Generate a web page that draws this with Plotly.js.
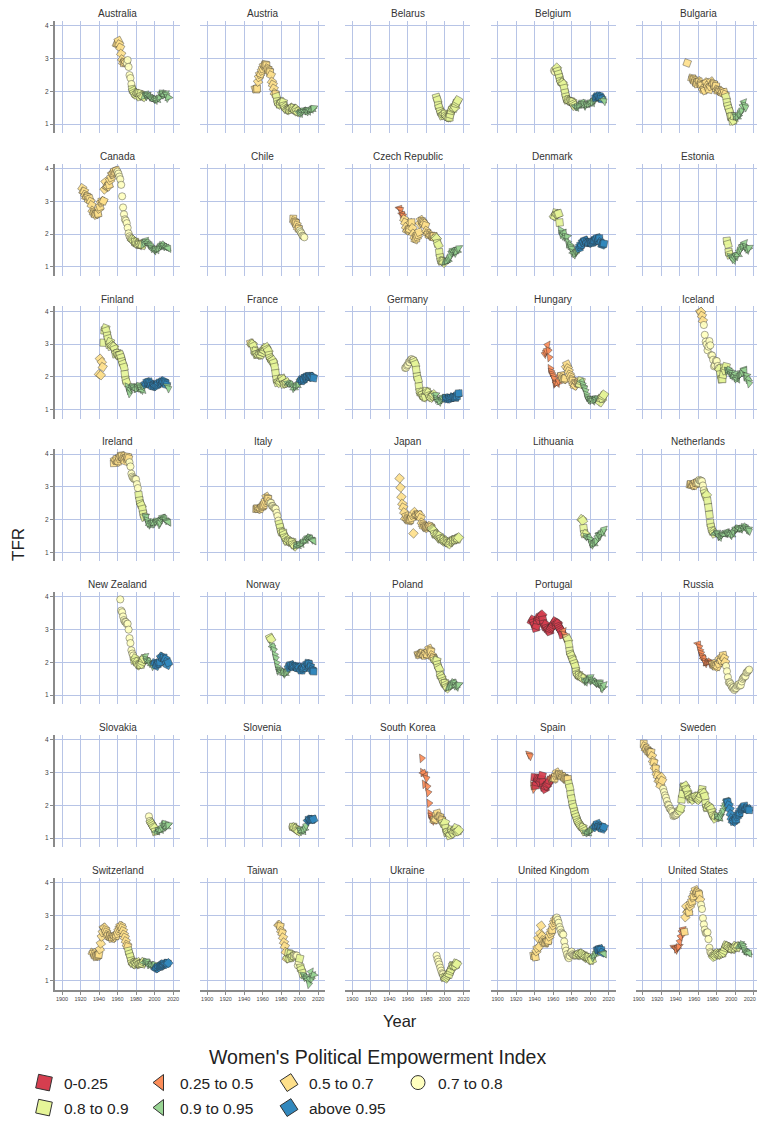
<!DOCTYPE html>
<html>
<head>
<meta charset="utf-8">
<script src="https://cdn.plot.ly/plotly-3.0.1.min.js"></script>
<style>
html,body{margin:0;padding:0;background:#fff;overflow:hidden;}
#chart{width:765px;height:1128px;}
</style>
</head>
<body>
<div id="chart"></div>
<script>
// ---------------- DATA ----------------
const COUNTRIES = ["Australia","Austria","Belarus","Belgium","Bulgaria",
  "Canada","Chile","Czech Republic","Denmark","Estonia",
  "Finland","France","Germany","Hungary","Iceland",
  "Ireland","Italy","Japan","Lithuania","Netherlands",
  "New Zealand","Norway","Poland","Portugal","Russia",
  "Slovakia","Slovenia","South Korea","Spain","Sweden",
  "Switzerland","Taiwan","Ukraine","United Kingdom","United States"];

const START_YEAR = [1958,1951,1990,1960,1947,
  1921,1992,1950,1960,1990,
  1939,1946,1956,1950,1961,
  1955,1952,1950,1990,1950,
  1962,1967,1970,1936,1959,
  1993,1991,1974,1933,1900,
  1932,1976,1990,1938,1933];

const tfrAustralia = [3.42,3.43,
 3.45,3.54,3.43,3.33,3.14,2.97,2.88,2.85,2.89,2.89,
 2.86,2.95,2.74,2.49,2.40,2.22,2.06,2.01,1.95,1.91,
 1.89,1.94,1.93,1.92,1.84,1.92,1.87,1.85,1.83,1.84,
 1.91,1.85,1.89,1.86,1.85,1.82,1.80,1.78,1.76,1.76,
 1.76,1.73,1.76,1.75,1.77,1.81,1.82,1.93,1.96,1.90,
 1.89,1.88,1.93,1.88,1.80,1.81];
const tfrAustria = [2.02,2.08,2.05,2.08,2.29,2.43,2.52,2.53,2.62,
 2.69,2.78,2.80,2.82,2.79,2.70,2.66,2.61,2.58,2.49,
 2.29,2.20,2.08,1.94,1.91,1.83,1.69,1.63,1.60,1.60,
 1.65,1.67,1.66,1.56,1.52,1.47,1.45,1.43,1.44,1.44,
 1.46,1.49,1.49,1.48,1.44,1.42,1.45,1.39,1.37,1.34,
 1.36,1.33,1.39,1.38,1.42,1.41,1.41,1.38,1.41,1.39,
 1.44,1.43,1.44,1.44,1.46,1.49];
const tfrBelarus = [1.91,1.81,1.73,1.57,1.50,1.39,1.33,1.26,1.28,1.31,
 1.31,1.26,1.23,1.21,1.20,1.20,1.29,1.41,1.47,1.50,
 1.49,1.51,1.62,1.67,1.72];
const tfrBelgium = [2.56,2.63,2.59,2.68,2.71,2.61,2.52,2.41,2.31,2.27,
 2.25,2.21,2.09,1.95,1.83,1.74,1.73,1.71,1.69,1.69,
 1.68,1.67,1.61,1.56,1.53,1.51,1.54,1.54,1.57,1.58,
 1.62,1.66,1.65,1.61,1.56,1.56,1.59,1.60,1.60,1.62,
 1.67,1.67,1.65,1.67,1.72,1.76,1.80,1.82,1.85,1.84,
 1.86,1.81,1.79,1.75,1.74,1.70];
const tfrBulgaria = [2.92,2.86,null,
 null,null,2.45,2.40,2.38,2.35,2.30,2.28,2.24,2.22,
 2.31,2.29,2.23,2.20,2.19,2.07,2.03,2.02,2.27,2.26,
 2.17,2.10,2.05,2.15,2.30,2.23,2.24,2.21,2.14,2.16,
 2.05,2.01,2.02,2.01,2.01,1.98,1.99,1.92,1.97,1.90,
 1.82,1.66,1.55,1.46,1.37,1.23,1.23,1.09,1.11,1.23,
 1.26,1.21,1.21,1.23,1.29,1.32,1.38,1.42,1.56,1.66,
 1.57,1.51];
const tfrCanada = [3.54,3.40,3.29,3.30,3.20,3.13,3.14,3.12,3.03,
 3.08,2.99,2.88,2.71,2.66,2.63,2.59,2.58,2.64,2.62,
 2.77,2.83,2.96,3.00,3.00,3.01,3.36,3.59,3.44,3.45,
 3.45,3.50,3.64,3.72,3.83,3.82,3.86,3.93,3.88,3.94,
 3.90,3.84,3.75,3.67,3.50,3.15,2.81,2.60,2.45,2.41,
 2.33,2.19,2.02,1.93,1.88,1.85,1.83,1.80,1.76,1.76,
 1.74,1.70,1.69,1.68,1.69,1.67,1.67,1.66,1.68,1.73,
 1.80,1.76,1.75,1.70,1.69,1.67,1.63,1.57,1.55,1.54,
 1.50,1.54,1.52,1.54,1.55,1.57,1.61,1.66,1.68,1.68,
 1.63,1.61,1.61,1.59,1.58,1.56];
const tfrChile = [2.50,2.47,2.40,2.36,2.33,2.27,2.19,2.16,2.11,2.06,2.02,1.95,1.93,1.90];
const tfrCzech = [2.80,2.78,2.74,2.62,2.60,2.55,2.45,2.35,2.21,2.11,
 2.11,2.13,2.14,2.33,2.36,2.18,2.01,1.90,1.83,1.86,
 1.92,1.98,2.06,2.32,2.43,2.40,2.36,2.32,2.32,2.26,
 2.10,2.02,2.01,1.96,1.96,1.96,1.94,1.91,1.94,1.87,
 1.89,1.86,1.72,1.67,1.44,1.28,1.18,1.17,1.16,1.13,
 1.14,1.15,1.17,1.18,1.23,1.28,1.33,1.44,1.50,1.49,
 1.49,1.43,1.45,1.46,1.53,1.57];
const tfrDenmark = [2.57,2.55,2.54,2.64,2.60,2.61,2.62,2.35,2.12,2.00,
 1.95,2.04,2.03,1.92,1.90,1.92,1.75,1.66,1.67,1.60,
 1.55,1.44,1.43,1.38,1.40,1.45,1.48,1.50,1.56,1.62,
 1.67,1.68,1.76,1.75,1.81,1.80,1.75,1.75,1.72,1.73,
 1.77,1.74,1.72,1.76,1.78,1.80,1.85,1.84,1.89,1.84,
 1.87,1.75,1.73,1.67,1.69,1.71];
const tfrEstonia = [2.05,1.79,1.69,1.45,1.37,1.32,1.30,1.24,1.21,1.30,
 1.36,1.32,1.37,1.37,1.47,1.50,1.55,1.63,1.65,1.62,
 1.72,1.61,1.56,1.52,1.54,1.58];
const tfrFinland = [2.50,
 2.08,2.55,2.05,2.45,2.30,3.04,3.41,3.48,3.40,3.25,
 3.16,2.99,3.06,2.93,2.96,2.93,2.91,2.84,2.70,2.72,
 2.72,2.66,2.66,2.67,2.58,2.46,2.39,2.29,2.08,1.90,
 1.83,1.70,1.59,1.50,1.62,1.69,1.72,1.69,1.65,1.64,
 1.63,1.65,1.72,1.74,1.70,1.64,1.60,1.59,1.70,1.71,
 1.78,1.79,1.85,1.81,1.85,1.81,1.76,1.75,1.70,1.74,
 1.73,1.73,1.72,1.76,1.80,1.80,1.84,1.83,1.85,1.86,
 1.87,1.83,1.80,1.75,1.71,1.65];
const tfrFrance = [2.98,3.03,3.01,2.99,
 2.93,2.79,2.78,2.69,2.70,2.68,2.67,2.69,2.68,2.75,
 2.74,2.82,2.80,2.88,2.90,2.84,2.80,2.66,2.58,2.53,
 2.48,2.50,2.42,2.30,2.11,1.93,1.83,1.86,1.82,1.86,
 1.94,1.95,1.91,1.78,1.80,1.81,1.83,1.80,1.80,1.79,
 1.77,1.77,1.73,1.66,1.66,1.71,1.73,1.73,1.76,1.79,
 1.89,1.90,1.88,1.89,1.92,1.94,2.00,1.98,2.01,2.00,
 2.03,2.01,2.00,1.99,2.00,1.96];
const tfrGermany = [2.21,2.27,2.28,2.34,
 2.37,2.45,2.44,2.52,2.54,2.50,2.51,2.45,2.38,2.21,
 2.01,1.92,1.71,1.54,1.51,1.45,1.46,1.40,1.38,1.39,
 1.56,1.53,1.51,1.43,1.39,1.37,1.41,1.43,1.46,1.42,
 1.45,1.33,1.29,1.28,1.24,1.25,1.32,1.37,1.36,1.36,
 1.38,1.35,1.34,1.34,1.36,1.34,1.33,1.37,1.38,1.36,
 1.39,1.36,1.38,1.41,1.47,1.50];
const tfrHungary = [2.60,2.70,2.75,2.80,2.97,2.80,2.59,2.25,2.15,2.08,
 2.02,1.94,1.79,1.82,1.80,1.81,1.88,2.01,2.06,2.04,
 1.97,1.92,1.93,1.95,2.30,2.38,2.26,2.17,2.07,2.00,
 1.92,1.88,1.79,1.73,1.73,1.83,1.83,1.81,1.79,1.78,
 1.87,1.86,1.77,1.69,1.65,1.57,1.46,1.38,1.33,1.29,
 1.32,1.31,1.30,1.27,1.28,1.31,1.34,1.32,1.35,1.32,
 1.25,1.23,1.34,1.35,1.41,1.45];
const tfrIceland = [3.88,3.98,3.98,3.86,3.71,3.58,3.28,3.07,2.99,
 2.81,2.92,3.09,2.96,2.66,2.65,2.52,2.32,2.35,2.49,
 2.48,2.33,2.26,2.24,2.08,1.93,1.93,2.07,2.27,2.20,
 2.31,2.18,2.21,2.22,2.14,2.08,2.12,2.04,2.05,1.99,
 2.08,1.95,1.93,1.99,2.03,2.05,2.07,2.09,2.14,2.22,
 2.20,2.02,2.04,1.93,1.93,1.80];
const tfrIreland = [3.69,3.72,3.82,3.82,3.85,
 3.76,3.78,3.86,3.92,3.96,3.94,3.88,3.84,3.78,3.86,
 3.90,3.92,3.87,3.75,3.62,3.40,3.31,3.27,3.24,3.23,
 3.23,3.08,2.96,2.75,2.58,2.48,2.43,2.32,2.17,2.08,
 2.11,2.08,1.98,1.90,1.85,1.84,1.88,1.92,1.94,1.89,
 1.89,1.94,1.97,1.96,1.93,1.86,1.91,2.01,2.07,2.06,
 2.05,2.03,1.98,1.96,1.94,1.92];
const tfrItaly = [2.35,2.32,2.35,2.33,2.33,2.33,2.34,2.38,
 2.41,2.44,2.50,2.57,2.70,2.66,2.63,2.54,2.50,2.51,
 2.42,2.41,2.36,2.34,2.33,2.21,2.11,1.97,1.87,1.76,
 1.64,1.60,1.60,1.54,1.46,1.42,1.35,1.34,1.37,1.33,
 1.33,1.31,1.31,1.25,1.22,1.19,1.21,1.22,1.21,1.23,
 1.26,1.25,1.27,1.29,1.34,1.34,1.37,1.38,1.45,1.45,
 1.46,1.44,1.43,1.39,1.37,1.35];
const tfrJapan = [3.65,3.26,2.98,2.69,2.48,2.37,2.22,2.04,2.11,2.04,
 2.00,1.96,1.98,2.00,2.05,2.14,1.58,2.23,2.13,2.13,
 2.13,2.16,2.14,2.14,2.05,1.91,1.85,1.80,1.79,1.77,
 1.75,1.74,1.77,1.80,1.81,1.76,1.72,1.69,1.66,1.57,
 1.54,1.53,1.50,1.46,1.50,1.42,1.43,1.39,1.38,1.34,
 1.36,1.33,1.32,1.29,1.29,1.26,1.32,1.34,1.37,1.37,
 1.39,1.39,1.41,1.43,1.42,1.45];
const tfrLithuania = [2.03,2.01,1.97,1.74,1.57,1.55,1.49,1.47,1.46,1.46,
 1.39,1.29,1.24,1.26,1.26,1.29,1.33,1.36,1.47,1.55,
 1.50,1.55,1.60,1.59,1.63,1.70];
const tfrNetherlands = [3.10,3.06,3.09,3.04,3.05,3.04,3.05,3.14,3.10,3.13,
 3.12,3.21,3.18,3.19,3.17,3.04,2.90,2.81,2.72,2.75,
 2.57,2.37,2.15,1.90,1.77,1.66,1.63,1.58,1.58,1.56,
 1.60,1.56,1.50,1.47,1.49,1.51,1.55,1.56,1.55,1.55,
 1.62,1.61,1.59,1.57,1.57,1.53,1.53,1.56,1.63,1.65,
 1.72,1.71,1.73,1.75,1.73,1.71,1.72,1.72,1.77,1.79,
 1.79,1.76,1.72,1.68,1.71,1.66];
const tfrNewZealand = [4.02,3.92,3.58,3.53,3.40,3.29,3.24,3.23,
 3.17,3.18,3.00,2.74,2.59,2.37,2.27,2.21,2.07,2.12,
 2.03,2.01,1.95,1.92,1.93,1.93,1.96,2.03,2.10,2.12,
 2.18,2.09,2.06,2.04,2.04,1.98,1.96,1.96,1.89,1.97,
 1.98,1.97,1.89,1.93,1.98,1.97,2.01,2.17,2.18,2.12,
 2.15,2.09,2.10,2.01,1.92,1.99];
const tfrNorway = [2.81,2.75,2.71,
 2.50,2.49,2.38,2.23,2.13,1.98,1.86,1.75,1.77,1.75,
 1.72,1.70,1.71,1.66,1.66,1.68,1.71,1.75,1.84,1.89,
 1.93,1.92,1.88,1.86,1.87,1.87,1.89,1.86,1.81,1.85,
 1.85,1.78,1.75,1.80,1.83,1.84,1.90,1.90,1.96,1.98,
 1.95,1.88,1.85,1.78,1.75,1.72];
const tfrPoland = [2.20,2.25,2.24,2.25,2.26,2.27,2.30,2.23,2.21,2.28,
 2.28,2.24,2.34,2.42,2.37,2.33,2.22,2.15,2.13,2.08,
 2.06,2.05,1.93,1.85,1.80,1.62,1.58,1.51,1.43,1.37,
 1.37,1.31,1.25,1.22,1.23,1.24,1.27,1.31,1.39,1.40,
 1.38,1.30,1.30,1.26,1.29,1.32];
const tfrPortugal = [3.20,3.25,3.30,3.22,
 3.15,3.05,3.12,3.28,3.35,3.30,3.38,3.42,3.45,3.30,
 3.18,3.10,3.15,3.05,3.00,3.02,2.95,3.02,3.06,3.10,
 3.15,3.20,3.25,3.15,3.20,3.18,3.10,3.05,3.00,2.95,
 2.85,2.95,2.85,2.75,2.70,2.75,2.70,2.55,2.35,2.25,
 2.20,2.10,2.05,1.96,1.88,1.72,1.65,1.61,1.61,1.58,
 1.56,1.55,1.52,1.50,1.44,1.41,1.45,1.47,1.48,1.51,
 1.55,1.45,1.46,1.44,1.41,1.41,1.37,1.35,1.39,1.35,
 1.39,1.35,1.28,1.21,1.23,1.31];
const tfrRussia = [2.58,
 2.56,2.47,2.36,2.28,2.19,2.14,2.13,2.03,1.98,1.99,
 2.00,2.02,2.03,1.96,2.00,1.97,1.96,1.92,1.90,1.87,
 1.87,1.88,1.96,2.11,2.06,2.05,2.18,2.22,2.13,2.01,
 1.89,1.73,1.55,1.39,1.39,1.34,1.27,1.22,1.24,1.16,
 1.20,1.22,1.29,1.32,1.34,1.29,1.31,1.42,1.50,1.54,
 1.57,1.58,1.69,1.71,1.75,1.78];
const tfrSlovakia = [1.87,1.66,1.52,1.47,1.43,1.38,1.33,
 1.30,1.20,1.19,1.20,1.25,1.25,1.24,1.25,1.32,1.41,
 1.43,1.45,1.34,1.34,1.37,1.40];
const tfrSlovenia = [1.42,1.34,1.34,1.32,1.29,1.28,1.25,1.23,1.21,
 1.26,1.21,1.21,1.20,1.25,1.26,1.31,1.38,1.53,1.53,
 1.57,1.56,1.58,1.55,1.58,1.57];
const tfrSouthKorea = [3.77,3.43,3.00,2.99,2.64,2.90,
 2.82,2.57,2.39,2.06,1.74,1.66,1.58,1.53,1.55,1.56,
 1.57,1.71,1.76,1.65,1.66,1.63,1.57,1.54,1.46,1.42,
 1.47,1.30,1.18,1.19,1.16,1.08,1.12,1.25,1.19,1.15,
 1.23,1.24,1.30,1.19,1.21,1.24];
const tfrSpain = [3.62,3.55,3.50,null,2.90,2.60,2.50,
 2.85,2.60,2.70,2.80,2.78,2.75,2.70,2.80,2.90,2.70,
 2.55,2.50,2.58,2.60,2.65,2.68,2.75,2.80,2.82,2.85,
 2.86,2.80,2.82,2.90,3.00,2.94,2.91,2.95,2.91,2.87,
 2.88,2.87,2.84,2.82,2.80,2.77,2.80,2.65,2.54,2.34,
 2.20,2.03,1.94,1.80,1.72,1.64,1.55,1.49,1.45,1.40,
 1.36,1.33,1.32,1.27,1.21,1.17,1.16,1.17,1.16,1.19,
 1.22,1.24,1.26,1.31,1.33,1.33,1.36,1.38,1.44,1.38,
 1.37,1.34,1.32,1.27,1.32,1.33];
const tfrSweden = [3.91,3.88,3.80,3.72,3.73,3.67,3.64,3.62,3.60,3.62,
 3.50,3.35,3.30,3.15,3.12,2.96,2.90,2.75,2.73,2.60,
 2.86,2.75,2.50,2.40,2.30,2.23,2.13,2.02,2.00,1.90,
 1.89,1.83,1.79,1.67,1.69,1.69,1.71,1.75,1.82,1.86,
 1.83,1.91,2.18,2.34,2.56,2.57,2.59,2.49,2.45,2.32,
 2.28,2.20,2.22,2.21,2.17,2.24,2.26,2.27,2.24,2.20,
 2.17,2.21,2.25,2.33,2.48,2.39,2.36,2.27,2.06,1.93,
 1.92,1.97,1.93,1.87,1.89,1.77,1.69,1.65,1.60,1.66,
 1.68,1.63,1.62,1.61,1.65,1.73,1.79,1.84,1.96,2.02,
 2.13,2.11,2.09,2.00,1.88,1.73,1.60,1.52,1.50,1.50,
 1.54,1.57,1.65,1.71,1.75,1.77,1.85,1.88,1.91,1.94,
 1.98,1.90,1.91,1.89,1.88,1.85];
const tfrSwitzerland = [1.95,1.86,1.85,1.80,1.75,1.73,1.75,1.78,
 1.80,1.96,2.14,2.35,2.48,2.62,2.62,2.55,2.48,2.40,
 2.39,2.33,2.36,2.31,2.29,2.30,2.34,2.34,2.37,2.38,
 2.44,2.53,2.60,2.67,2.68,2.61,2.52,2.41,2.32,2.21,
 2.10,2.04,1.91,1.82,1.73,1.61,1.55,1.53,1.51,1.52,
 1.55,1.54,1.56,1.51,1.52,1.52,1.53,1.52,1.57,1.56,
 1.58,1.60,1.58,1.51,1.49,1.48,1.50,1.48,1.47,1.48,
 1.50,1.38,1.39,1.39,1.42,1.42,1.44,1.46,1.48,1.50,
 1.52,1.52,1.52,1.52,1.54,1.54];
const tfrTaiwan = [3.08,2.70,2.70,2.66,
 2.52,2.46,2.32,2.17,2.05,1.88,1.68,1.70,1.85,1.68,
 1.81,1.72,1.73,1.76,1.76,1.78,1.76,1.77,1.47,1.56,
 1.68,1.40,1.34,1.23,1.18,1.12,1.12,1.10,1.05,1.03,
 0.90,1.07,1.27,1.07,1.17,1.18];
const tfrUkraine = [1.85,1.77,1.66,1.58,1.50,1.40,1.31,1.23,1.20,1.11,
 1.10,1.08,1.12,1.17,1.22,1.21,1.30,1.36,1.46,1.47,
 1.45,1.46,1.53,1.51];
const tfrUnitedKingdom = [1.80,1.78,
 1.74,1.72,1.90,2.00,2.30,2.04,2.45,2.68,2.37,2.24,
 2.18,2.14,2.16,2.21,2.20,2.22,2.35,2.44,2.52,2.55,
 2.69,2.78,2.85,2.88,2.93,2.86,2.77,2.64,2.56,2.47,
 2.43,2.41,2.20,2.03,1.92,1.81,1.73,1.69,1.76,1.86,
 1.89,1.81,1.78,1.77,1.77,1.79,1.78,1.81,1.82,1.80,
 1.83,1.82,1.79,1.76,1.74,1.71,1.73,1.72,1.71,1.68,
 1.64,1.63,1.64,1.71,1.77,1.78,1.84,1.90,1.96,1.94,
 1.98,1.97,1.94,1.86,1.84,1.82];
const tfrUnitedStates = [2.05,2.02,2.00,1.95,1.97,2.02,2.05,
 2.20,2.35,2.50,2.56,2.45,2.49,2.94,3.27,3.11,3.11,
 3.09,3.27,3.36,3.42,3.54,3.58,3.69,3.77,3.70,3.71,
 3.65,3.63,3.47,3.32,3.19,2.91,2.72,2.56,2.46,2.46,
 2.48,2.27,2.01,1.88,1.84,1.77,1.74,1.79,1.76,1.81,
 1.84,1.81,1.83,1.80,1.81,1.84,1.84,1.87,1.93,2.01,
 2.08,2.06,2.05,2.02,2.00,1.98,1.98,1.97,2.00,2.01,
 2.06,2.03,2.02,2.05,2.05,2.06,2.11,2.12,2.07,2.00,
 1.93,1.89,1.88,1.86,1.86,1.84];

const TFR_SERIES = [tfrAustralia,tfrAustria,tfrBelarus,tfrBelgium,tfrBulgaria,
  tfrCanada,tfrChile,tfrCzech,tfrDenmark,tfrEstonia,
  tfrFinland,tfrFrance,tfrGermany,tfrHungary,tfrIceland,
  tfrIreland,tfrItaly,tfrJapan,tfrLithuania,tfrNetherlands,
  tfrNewZealand,tfrNorway,tfrPoland,tfrPortugal,tfrRussia,
  tfrSlovakia,tfrSlovenia,tfrSouthKorea,tfrSpain,tfrSweden,
  tfrSwitzerland,tfrTaiwan,tfrUkraine,tfrUnitedKingdom,tfrUnitedStates];

// Women's Political Empowerment class from the given year onwards: [year, class]
const WPE_BREAKS = [
  [[1958,2],[1970,3],[1976,4],[1989,5]],
  [[1951,2],[1975,4],[1999,5]],
  [[1990,2],[1991,4]],
  [[1960,3],[1964,4],[1984,5],[2006,6],[2014,5]],
  [[1947,2],[1990,4],[2000,5]],
  [[1921,2],[1960,3],[1976,4],[1988,5]],
  [[1992,2],[2000,3]],
  [[1950,1],[1956,2],[1990,4],[2000,5]],
  [[1960,4],[1968,5],[1988,6]],
  [[1990,2],[1991,4],[1995,5]],
  [[1939,2],[1945,4],[1971,5],[1990,6],[2014,5]],
  [[1946,2],[1948,4],[1987,5],[2001,6]],
  [[1956,3],[1967,4],[1989,5],[2001,6]],
  [[1950,1],[1969,2],[1989,4],[1991,5],[2011,4]],
  [[1961,2],[1966,3],[1983,4],[1991,5]],
  [[1955,2],[1973,3],[1983,4],[1990,5]],
  [[1952,2],[1968,3],[1978,4],[1996,5]],
  [[1950,2],[1986,4]],
  [[1990,4],[1996,5]],
  [[1950,2],[1960,3],[1967,4],[1978,5]],
  [[1962,3],[1978,4],[1990,5],[2000,6]],
  [[1967,4],[1970,5],[1988,6]],
  [[1970,2],[1989,4],[2004,5]],
  [[1936,0],[1971,1],[1975,2],[1976,4],[1994,5]],
  [[1959,1],[1976,2],[1990,3]],
  [[1993,3],[1996,4],[2002,5]],
  [[1991,3],[1993,4],[2000,5],[2009,6]],
  [[1974,1],[1988,2],[1998,4]],
  [[1933,1],[1940,0],[1957,1],[1961,2],[1977,4],[1995,5],[2005,6]],
  [[1900,2],[1922,3],[1940,4],[1980,5],[1991,6]],
  [[1932,2],[1972,4],[1989,5],[2001,6]],
  [[1976,2],[1987,4],[1995,3],[2000,4],[2004,5]],
  [[1990,3],[1999,4]],
  [[1938,2],[1964,3],[1986,4],[2003,5],[2008,6],[2014,5]],
  [[1933,1],[1945,2],[1963,3],[1976,4],[2004,5]]
];

const WPE_LABELS = ["0-0.25","0.25 to 0.5","0.5 to 0.7","0.7 to 0.8","0.8 to 0.9","0.9 to 0.95","above 0.95"];
const WPE_COLORS = ["#d53e4f","#fc8d59","#fee08b","#ffffbf","#e6f598","#99d594","#3288bd"];
const WPE_SYMBOLS = ["square","triangle-left","diamond","circle","square","triangle-left","diamond"];
const X_TICKS = [1900,1920,1940,1960,1980,2000,2020];
const Y_TICKS = [1,2,3,4];

// ---------------- LAYOUT ----------------
const W = 765, H = 1128;
const FONT = "Liberation Sans, Arial, Helvetica, sans-serif";
const PW = 125, PH = 112.3;
const colLeft = c => 55 + 145.2 * c;
const rowTop = r => 20.7 + 142.8 * r;
const XR = [1892.43, 2027.57];
const YR = [0.726, 4.15];
const GRID = "#b7c4e6";
const AXLINE = "#8a8a8a";
const SIZE = [7.2, 7.6, 7.4, 7.2, 7.2, 7.6, 7.4];

const traces = [];
const layout = {
  width: W, height: H,
  margin: {l: 0, r: 0, t: 0, b: 0},
  paper_bgcolor: "#ffffff", plot_bgcolor: "#ffffff",
  showlegend: true,
  font: {family: FONT, color: "#333"},
  annotations: []
};

COUNTRIES.forEach((name, i) => {
  const r = Math.floor(i / 5), c = i % 5;
  const id = i === 0 ? "" : String(i + 1);
  const vals = TFR_SERIES[i];
  const years = vals.map((_, k) => START_YEAR[i] + k);
  const br = WPE_BREAKS[i];
  const cls = years.map(y => { let k = br[0][1]; br.forEach(b => { if (y >= b[0]) k = b[1]; }); return k; });
  traces.push({
    type: "scatter", mode: "markers", x: years, y: vals,
    xaxis: "x" + id, yaxis: "y" + id, showlegend: false, hoverinfo: "skip",
    marker: {
      size: cls.map(k => SIZE[k]),
      color: cls.map(k => WPE_COLORS[k]),
      symbol: cls.map(k => WPE_SYMBOLS[k]),
      angleref: "previous",
      opacity: 0.92,
      line: {color: "rgba(40,40,40,0.85)", width: 0.5}
    }
  });
  const L = colLeft(c), T = rowTop(r);
  const bottom = r === 6, left = c === 0;
  layout["xaxis" + id] = {
    domain: [L / W, Math.min((L + PW) / W, 1)], range: XR, anchor: "y" + id,
    tickmode: "array", tickvals: X_TICKS, ticktext: X_TICKS.map(String),
    showgrid: true, gridcolor: GRID, gridwidth: 1, zeroline: false,
    showline: bottom, linecolor: AXLINE, linewidth: 2,
    ticks: bottom ? "outside" : "", ticklen: 3, tickwidth: 1, tickcolor: AXLINE,
    showticklabels: bottom, tickfont: {family: FONT, size: 5.5, color: "#444"},
    ticklabelshift: c === 4 ? -4 : 0,
    fixedrange: true
  };
  layout["yaxis" + id] = {
    domain: [1 - (T + PH) / H, 1 - T / H], range: YR, anchor: "x" + id,
    tickmode: "array", tickvals: Y_TICKS, ticktext: Y_TICKS.map(String),
    showgrid: true, gridcolor: GRID, gridwidth: 1, zeroline: false,
    showline: left, linecolor: AXLINE, linewidth: 2,
    ticks: left ? "outside" : "", ticklen: 3, tickwidth: 1, tickcolor: AXLINE,
    showticklabels: left, tickfont: {family: FONT, size: 6.5, color: "#444"},
    fixedrange: true
  };
  layout.annotations.push({
    xref: "paper", yref: "paper", x: (L + PW / 2) / W, y: 1 - (T - 7.3) / H,
    xanchor: "center", yanchor: "middle", showarrow: false,
    text: name, font: {family: FONT, size: 10, color: "#333"}
  });
});

// axis titles and legend title
layout.annotations.push({xref: "paper", yref: "paper", x: 18 / W, y: 1 - 545 / H,
  xanchor: "center", yanchor: "middle", showarrow: false, textangle: -90,
  text: "TFR", font: {family: FONT, size: 17, color: "#222"}});
layout.annotations.push({xref: "paper", yref: "paper", x: 400 / W, y: 1 - 1021 / H,
  xanchor: "center", yanchor: "middle", showarrow: false,
  text: "Year", font: {family: FONT, size: 16.5, color: "#222"}});
layout.annotations.push({xref: "paper", yref: "paper", x: 377 / W, y: 1 - 1057 / H,
  xanchor: "center", yanchor: "middle", showarrow: false,
  text: "Women's Political Empowerment Index", font: {family: FONT, size: 19.5, color: "#222"}});

// legend: one small legend per entry, arranged in 4 columns x 2 rows
const LEG_X = [44, 160, 289, 418, 44, 160, 289];
const LEG_Y = [1083, 1083, 1083, 1083, 1108, 1108, 1108];
const LEG_ANGLE = [12, 0, 12, 0, 12, 0, 12];
WPE_LABELS.forEach((lab, k) => {
  const key = k === 0 ? "legend" : "legend" + (k + 1);
  traces.push({
    type: "scatter", mode: "markers", x: [null], y: [null], name: lab,
    legend: key, showlegend: true, hoverinfo: "skip",
    marker: {size: 14, color: WPE_COLORS[k], symbol: WPE_SYMBOLS[k], angle: LEG_ANGLE[k],
      line: {color: "#333", width: 1}}
  });
  layout[key] = {
    x: (LEG_X[k] - 20) / W, xanchor: "left", y: 1 - LEG_Y[k] / H, yanchor: "middle",
    orientation: "v", bgcolor: "rgba(0,0,0,0)", borderwidth: 0,
    itemsizing: "trace", font: {family: FONT, size: 15.5, color: "#222"}
  };
});

Plotly.newPlot("chart", traces, layout, {staticPlot: true, displayModeBar: false});
</script>
</body>
</html>
